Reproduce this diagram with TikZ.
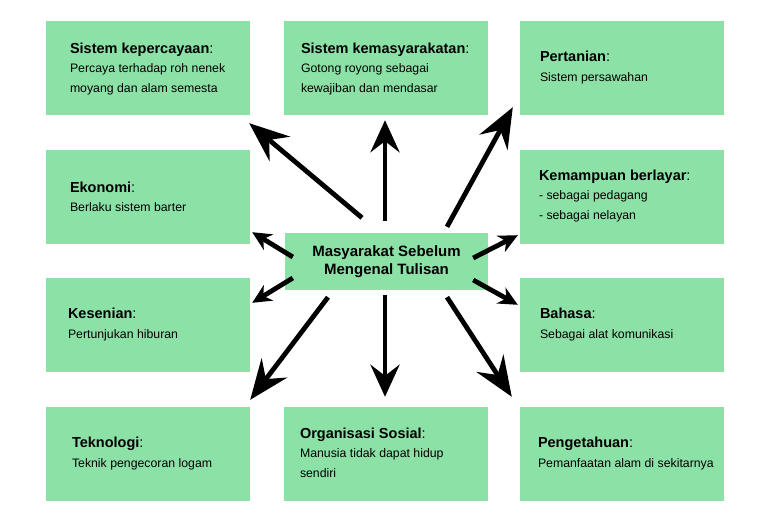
\documentclass[tikz,border=0pt]{standalone}
\usepackage{fontspec}
\setmainfont{Liberation Sans}
\usepackage{xcolor}
\usepackage{tikz}
\usetikzlibrary{positioning,arrows.meta}

\definecolor{boxgreen}{RGB}{140,226,166}
\newcommand{\judul}[1]{{\fontsize{14.5}{19.5}\selectfont\textbf{#1}:}}

\begin{document}
\begin{tikzpicture}[x=1pt,y=-1pt,
    box/.style={fill=boxgreen, minimum width=204pt, minimum height=94pt, inner sep=0pt},
    info/.style={align=left, inner sep=0pt, font=\fontsize{12.3}{19.5}\selectfont},
    arrbig/.style={line width=4.8pt, -{Stealth[length=40pt,width=32pt,inset=14pt]}},
    arrmid/.style={line width=4.8pt, -{Stealth[length=32pt,width=29pt,inset=11pt]}},
    arrsmall/.style={line width=4.8pt, -{Stealth[length=19pt,width=18pt,inset=6pt]}}]
    \useasboundingbox (0,0) rectangle (768,530);

    \node[box] (kepercayaan) at (148,67.5) {};
    \node[box] (kemasyarakatan) at (386,67.5) {};
    \node[box] (pertanian) at (622,67.5) {};
    \node[box] (ekonomi) at (148,197) {};
    \node[box] (berlayar) at (622,197) {};
    \node[box] (kesenian) at (148,324.5) {};
    \node[box] (bahasa) at (622,324.5) {};
    \node[box] (teknologi) at (148,453.5) {};
    \node[box] (organisasi) at (386,453.5) {};
    \node[box] (pengetahuan) at (622,453.5) {};
    \node[box, minimum width=203pt, minimum height=57pt, align=center,
        font=\fontsize{15}{18}\selectfont\bfseries] (pusat) at (386.5,261.5) {Masyarakat Sebelum\\Mengenal Tulisan};

    \node[info, right=24pt of kepercayaan.west, yshift=-1.5pt] (t1) {\judul{Sistem kepercayaan}\\Percaya terhadap roh nenek\\moyang dan alam semesta};
    \node[info, right=17pt of kemasyarakatan.west, yshift=-1.5pt] (t2) {\judul{Sistem kemasyarakatan}\\Gotong royong sebagai\\kewajiban dan mendasar};
    \node[info, right=20pt of pertanian.west] (t3) {\judul{Pertanian}\\Sistem persawahan};
    \node[info, right=24pt of ekonomi.west] (t4) {\judul{Ekonomi}\\Berlaku sistem barter};
    \node[info, right=19pt of berlayar.west, yshift=1pt] (t5) {\judul{Kemampuan berlayar}\\- sebagai pedagang\\- sebagai nelayan};
    \node[info, right=22pt of kesenian.west] (t6) {\judul{Kesenian}\\Pertunjukan hiburan};
    \node[info, right=20pt of bahasa.west] (t7) {\judul{Bahasa}\\Sebagai alat komunikasi};
    \node[info, right=26pt of teknologi.west] (t8) {\judul{Teknologi}\\Teknik pengecoran logam};
    \node[info, right=16pt of organisasi.west, yshift=1pt] (t9) {\judul{Organisasi Sosial}\\Manusia tidak dapat hidup\\sendiri};
    \node[info, right=18pt of pengetahuan.west] (t10) {\judul{Pengetahuan}\\Pemanfaatan alam di sekitarnya};

    \draw[arrbig] ([xshift=-24.5pt,yshift=15pt]pusat.north) -- ([xshift=-1pt,yshift=-8.5pt]kepercayaan.south east);
    \draw[arrmid] ([xshift=-1.5pt,yshift=12pt]pusat.north) -- ([xshift=-1pt,yshift=-5.5pt]kemasyarakatan.south);
    \draw[arrbig] ([xshift=60.5pt,yshift=6pt]pusat.north) -- ([xshift=-7pt,yshift=7.5pt]pertanian.south west);
    \draw[arrsmall] ([xshift=8pt,yshift=4.5pt]pusat.west) -- ([xshift=2pt,yshift=12pt]ekonomi.south east);
    \draw[arrsmall] ([xshift=-15pt,yshift=3.5pt]pusat.east) -- ([xshift=-2pt,yshift=9pt]berlayar.south west);
    \draw[arrsmall] ([xshift=8pt,yshift=-16.5pt]pusat.west) -- ([xshift=2pt,yshift=-25.5pt]kesenian.north east);
    \draw[arrsmall] ([xshift=-15pt,yshift=-18.5pt]pusat.east) -- ([xshift=-2pt,yshift=-27.5pt]bahasa.north west);
    \draw[arrbig] ([xshift=-58.5pt,yshift=-7pt]pusat.south) -- ([yshift=6.5pt]teknologi.north east);
    \draw[arrmid] ([xshift=-1.5pt,yshift=-5pt]pusat.south) -- ([xshift=-1pt,yshift=9.5pt]organisasi.north);
    \draw[arrbig] ([xshift=60.5pt,yshift=-7pt]pusat.south) -- ([xshift=-8pt,yshift=9.5pt]pengetahuan.north west);
\end{tikzpicture}
\end{document}
